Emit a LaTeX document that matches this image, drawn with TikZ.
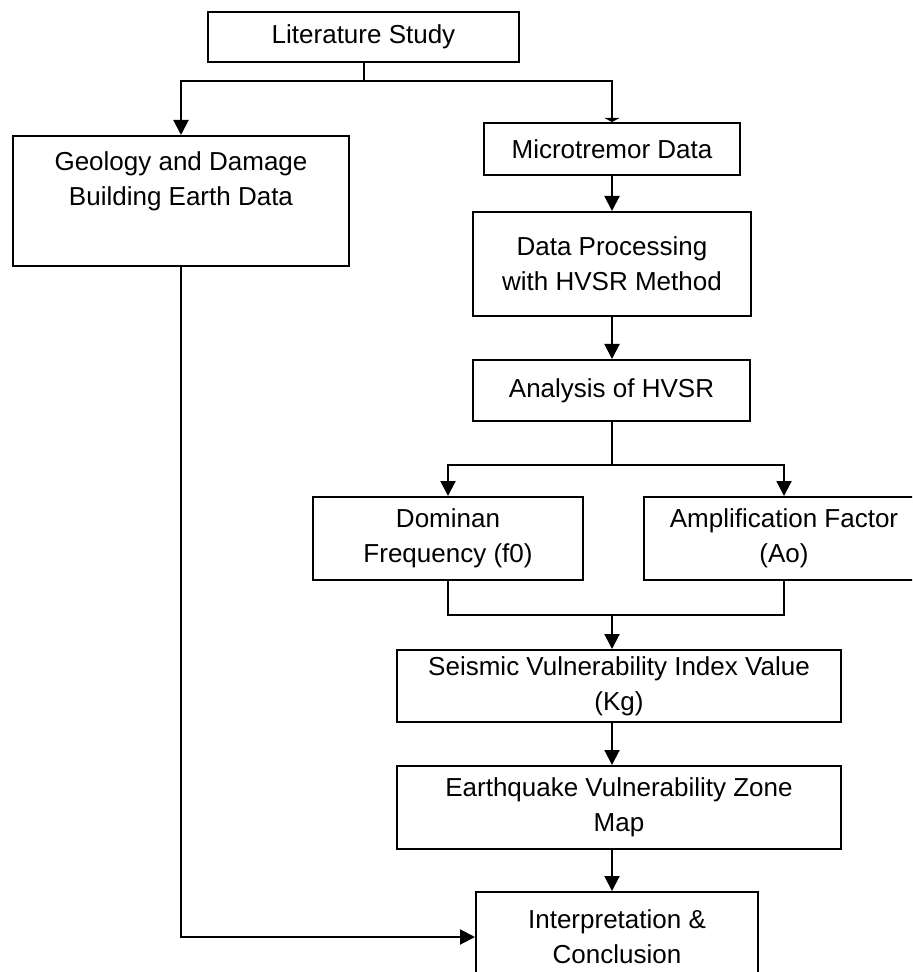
\documentclass[tikz,border=0pt]{standalone}
\usepackage{fontspec}
\setmainfont{Liberation Sans}
\usetikzlibrary{arrows.meta, positioning}

\begin{document}
\begin{tikzpicture}[
  x=0.5pt, y=-0.5pt,
  block/.style={rectangle, draw=black, line width=1pt, fill=white, align=center, inner sep=0pt, font=\fontsize{13}{17.5}\selectfont},
  arrow/.style={-{Triangle[width=7.5pt, length=7.5pt]}, line width=1pt},
  flatarrow/.style={-{Triangle[width=7.5pt, length=2pt]}, line width=1pt},
  link/.style={line width=1pt}
]
\clip (0,0) rectangle (912,972);

\node[block, minimum width=155.5pt, minimum height=25pt] (lit) at (363.5,37) {Literature Study};
\node[block, minimum width=168pt, minimum height=65pt] (geo) at (181,201) {Geology and Damage\\Building Earth Data\\\strut};
\node[block, minimum width=128pt, minimum height=26pt] (micro) at (612,149) {Microtremor Data};
\node[block, minimum width=139pt, minimum height=52pt] (proc) at (612,264) {Data Processing\\with HVSR Method};
\node[block, minimum width=138.5pt, minimum height=30.5pt] (ana) at (611.5,390.5) {Analysis of HVSR};
\node[block, minimum width=135pt, minimum height=41.5pt] (dom) at (448,538.5) {Dominan\\Frequency (f0)};
\node[block, minimum width=140pt, minimum height=41.5pt] (amp) at (784,538.5) {Amplification Factor\\(Ao)};
\node[block, minimum width=222pt, minimum height=36pt] (seis) at (619,686) {Seismic Vulnerability Index Value\\(Kg)};
\node[block, minimum width=222pt, minimum height=41.5pt] (quake) at (619,807.5) {Earthquake Vulnerability Zone\\Map};
\node[block, minimum width=141pt, minimum height=45pt] (interp) at (617,937) {Interpretation \&\\Conclusion};

\coordinate (spine) at (612,0);
\coordinate (bus1) at (0,81);
\coordinate (bus2) at (0,465);
\coordinate (bus3) at (0,615);

% literature study splits in two
\draw[link] (lit.south) -- (lit.south |- bus1);
\draw[arrow] (lit.south |- bus1) -| (geo.north);
\draw[flatarrow] (lit.south |- bus1) -| (micro.north -| spine);

\draw[arrow] (micro.south -| spine) -- (proc.north -| spine);
\draw[arrow] (proc.south -| spine) -- (ana.north -| spine);

% analysis to f0 and Ao
\draw[link] (ana.south -| spine) -- (bus2 -| spine);
\draw[arrow] (bus2 -| spine) -| (dom.north);
\draw[arrow] (bus2 -| spine) -| (amp.north);

% f0 and Ao join again
\draw[link] (dom.south) |- (bus3 -| spine);
\draw[link] (amp.south) |- (bus3 -| spine);
\draw[arrow] (bus3 -| spine) -- (seis.north -| spine);
\draw[arrow] (seis.south -| spine) -- (quake.north -| spine);
\draw[arrow] (quake.south -| spine) -- (interp.north -| spine);

\draw[arrow] (geo.south) |- (interp.west);
\end{tikzpicture}
\end{document}
